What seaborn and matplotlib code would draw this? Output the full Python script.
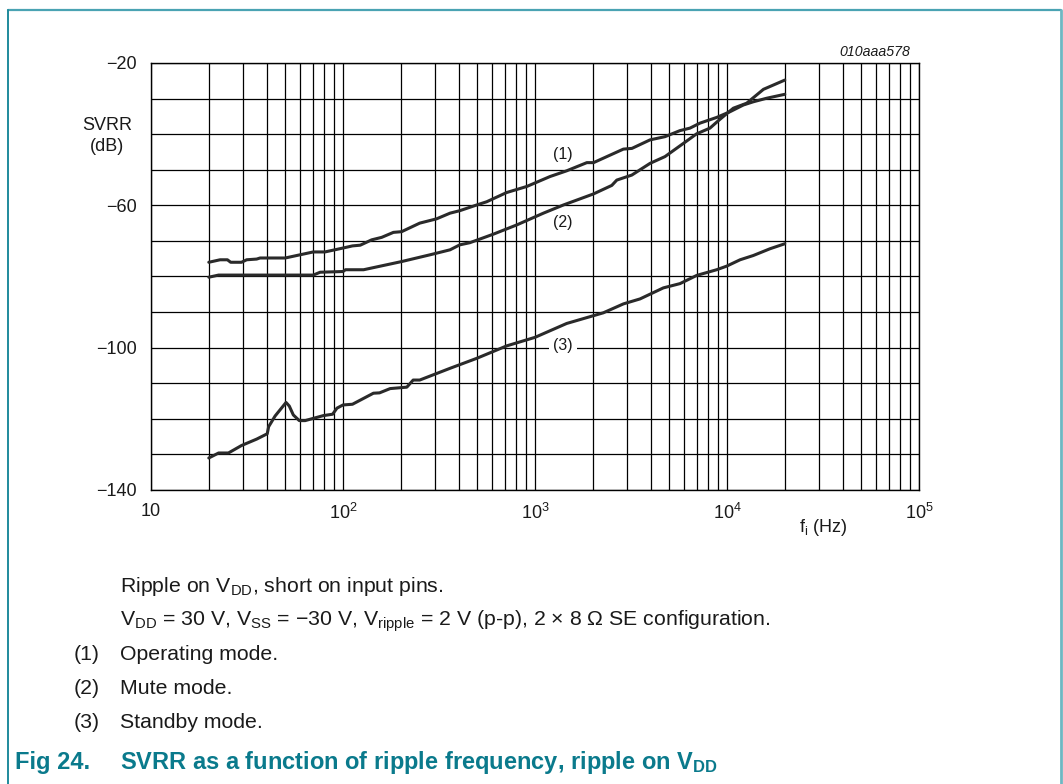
import numpy as np
import pandas as pd
import matplotlib
matplotlib.use("Agg")
import matplotlib.pyplot as plt
import seaborn as sns
from matplotlib.ticker import FixedLocator, FixedFormatter, MultipleLocator, LogLocator, NullFormatter
from matplotlib.lines import Line2D

# ---------------- data ----------------
freq_operating = [20, 22.9, 25, 26, 29.6, 31.5, 35.5, 37, 50, 70, 80.5, 100, 112, 123, 141, 159, 183, 202,
                  251, 307, 361, 406, 497, 560, 712, 906, 1198, 1462, 1862, 2018, 2886, 3197, 3975, 4755,
                  5690, 6414, 7230, 8830, 10360, 12170, 13710, 16100, 20000]
svrr_operating = [-76.0, -75.3, -75.3, -76.0, -76.0, -75.3, -75.1, -74.8, -74.8, -73.1, -73.1, -72.0, -71.4,
                  -71.2, -69.7, -69.0, -67.6, -67.4, -65.0, -63.8, -62.2, -61.5, -59.9, -59.0, -56.4, -54.7,
                  -51.9, -50.3, -48.0, -48.0, -44.2, -44.0, -41.6, -40.7, -39.0, -38.3, -36.9, -35.3, -33.7,
                  -31.8, -30.9, -29.9, -28.8]

freq_mute = [20, 22.5, 70, 76, 100, 103, 128, 183, 202, 284, 361, 406, 458, 607, 804, 1106, 1406, 2015,
             2512, 2667, 3192, 3975, 4755, 5925, 6950, 8150, 9200, 10790, 12660, 15480, 20000]
svrr_mute = [-80.2, -79.6, -79.6, -78.8, -78.6, -78.1, -78.1, -76.3, -75.8, -73.9, -72.5, -71.1, -70.5,
             -68.1, -65.5, -62.2, -59.9, -56.8, -54.4, -52.9, -51.5, -48.2, -46.3, -42.6, -39.9, -38.3,
             -35.8, -32.7, -31.3, -27.4, -24.8]

freq_standby = [20, 22.5, 25.3, 29.6, 35.5, 40.3, 41, 44.3, 50.5, 52.5, 55.1, 59.2, 63.5, 78.9, 88.3, 93,
                100, 112, 144, 155, 176, 215, 232, 251, 361, 497, 712, 1000, 1462, 2270, 2886, 3524, 4660,
                5690, 6950, 8830, 9950, 11700, 13710, 16750, 20000]
svrr_standby = [-131.0, -129.6, -129.6, -127.5, -125.7, -124.2, -122.2, -119.2, -115.4, -116.4, -118.9,
                -120.5, -120.5, -119.1, -118.7, -117.0, -116.1, -115.9, -112.8, -112.7, -111.5, -111.1,
                -109.1, -109.1, -105.8, -103.0, -99.5, -97.1, -93.2, -90.2, -87.7, -86.3, -83.2, -82.0,
                -79.7, -78.1, -77.1, -75.3, -74.1, -72.2, -70.8]

curve_labels = ["(1)", "(2)", "(3)"]
curve_label_pos_f = [1400, 1400, 1400]
curve_label_pos_db = [-45.8, -64.8, -99.3]

x_ticks = [10, 100, 1000, 10000, 100000]
x_tick_labels = ["10", r"$10^{2}$", r"$10^{3}$", r"$10^{4}$", r"$10^{5}$"]
y_major = [-140, -100, -60, -20]
y_major_labels = ["\u2212140", "\u2212100", "\u221260", "\u221220"]

# ---------------- style ----------------
sns.set_theme(style="white")
plt.rcParams["font.family"] = ["Liberation Sans", "DejaVu Sans"]
plt.rcParams["mathtext.fontset"] = "custom"
plt.rcParams["mathtext.rm"] = "Liberation Sans"
plt.rcParams["mathtext.it"] = "Liberation Sans:italic"
plt.rcParams["mathtext.bf"] = "Liberation Sans:bold"
plt.rcParams["mathtext.default"] = "rm"

W, H = 1063, 784
fig = plt.figure(figsize=(W / 100, H / 100), dpi=100)
ax = fig.add_axes([151 / W, 1 - 490 / H, (919 - 151) / W, (490 - 63) / H])

line_color = "#2a2a2a"
frames = [
    pd.DataFrame({"f": freq_operating, "svrr": svrr_operating}),
    pd.DataFrame({"f": freq_mute, "svrr": svrr_mute}),
    pd.DataFrame({"f": freq_standby, "svrr": svrr_standby}),
]
for df in frames:
    sns.lineplot(data=df, x="f", y="svrr", ax=ax, color=line_color, lw=2.2,
                 estimator=None, sort=False, zorder=3)

ax.set_xscale("log")
ax.set_xlim(10, 1e5)
ax.set_ylim(-140, -20)
ax.xaxis.set_major_locator(FixedLocator(x_ticks))
ax.xaxis.set_major_formatter(FixedFormatter(x_tick_labels))
ax.xaxis.set_minor_locator(LogLocator(base=10, subs=np.arange(2, 10), numticks=20))
ax.xaxis.set_minor_formatter(NullFormatter())
ax.yaxis.set_major_locator(FixedLocator(y_major))
ax.yaxis.set_major_formatter(FixedFormatter(y_major_labels))
ax.yaxis.set_minor_locator(MultipleLocator(10))
ax.grid(True, which="both", color="black", lw=0.9, zorder=1)
ax.set_axisbelow(True)
for s in ax.spines.values():
    s.set_color("black")
    s.set_linewidth(1.0)
ax.tick_params(which="both", length=0, labelsize=13, colors="#1a1a1a")
ax.tick_params(axis="y", pad=10)
ax.tick_params(axis="x", pad=9)
ax.set_xlabel("")
ax.set_ylabel("")

# curve labels
for i, (lab, fx, dbv) in enumerate(zip(curve_labels, curve_label_pos_f, curve_label_pos_db)):
    kw = {}
    if i == 2:
        kw["bbox"] = dict(facecolor="white", edgecolor="none", pad=3)
    ax.text(fx, dbv, lab, fontsize=11.5, ha="center", va="center", color="#1a1a1a", zorder=4, **kw)

# axis titles
fig.text(107 / W, 1 - 136 / H, "SVRR\n(dB)", ha="center", va="center", fontsize=13,
         color="#1a1a1a", linespacing=1.3)
fig.text(823 / W, 1 - 528 / H, r"f$_{i}$ (Hz)", ha="center", va="center", fontsize=13, color="#1a1a1a")
fig.text(910 / W, 1 - 52 / H, "010aaa578", ha="right", va="center", fontsize=10.2,
         style="italic", color="#1a1a1a")

# caption
cap_color = "#1a1a1a"
cap_fs = 15.3
fig.text(120 / W, 1 - 587 / H, r"Ripple on V$_{DD}$, short on input pins.", ha="left", va="center",
         fontsize=cap_fs, color=cap_color)
fig.text(120 / W, 1 - 621 / H,
         "V$_{DD}$ = 30 V, V$_{SS}$ = \u221230 V, V$_{ripple}$ = 2 V (p-p), 2 \u00d7 8 \u03a9 SE configuration.",
         ha="left", va="center", fontsize=cap_fs, color=cap_color)
items = [("(1)", "Operating mode."), ("(2)", "Mute mode."), ("(3)", "Standby mode.")]
for (num, txt), yy in zip(items, [655, 689, 722]):
    fig.text(74 / W, 1 - yy / H, num, ha="left", va="center", fontsize=cap_fs, color=cap_color)
    fig.text(120 / W, 1 - yy / H, txt, ha="left", va="center", fontsize=cap_fs, color=cap_color)

teal = "#0a7a8c"
fig.text(15 / W, 1 - 762 / H, "Fig 24.", ha="left", va="center", fontsize=17,
         fontweight="bold", color=teal)
fig.text(120 / W, 1 - 762 / H, r"SVRR as a function of ripple frequency, ripple on V$\mathbf{_{DD}}$",
         ha="left", va="center", fontsize=17, fontweight="bold", color=teal)

# frame
frame_c = "#4aa3b3"
fig.add_artist(Line2D([8 / W, 1061 / W], [1 - 10 / H, 1 - 10 / H], color=frame_c, lw=1.6))
fig.add_artist(Line2D([8 / W, 8 / W], [1 - 10 / H, 0], color="#1f8a9c", lw=1.4))
fig.add_artist(Line2D([1061 / W, 1061 / W], [1 - 10 / H, 0], color="#6fb7c2", lw=2.0))

fig.savefig("out.png", dpi=100, facecolor="white")
